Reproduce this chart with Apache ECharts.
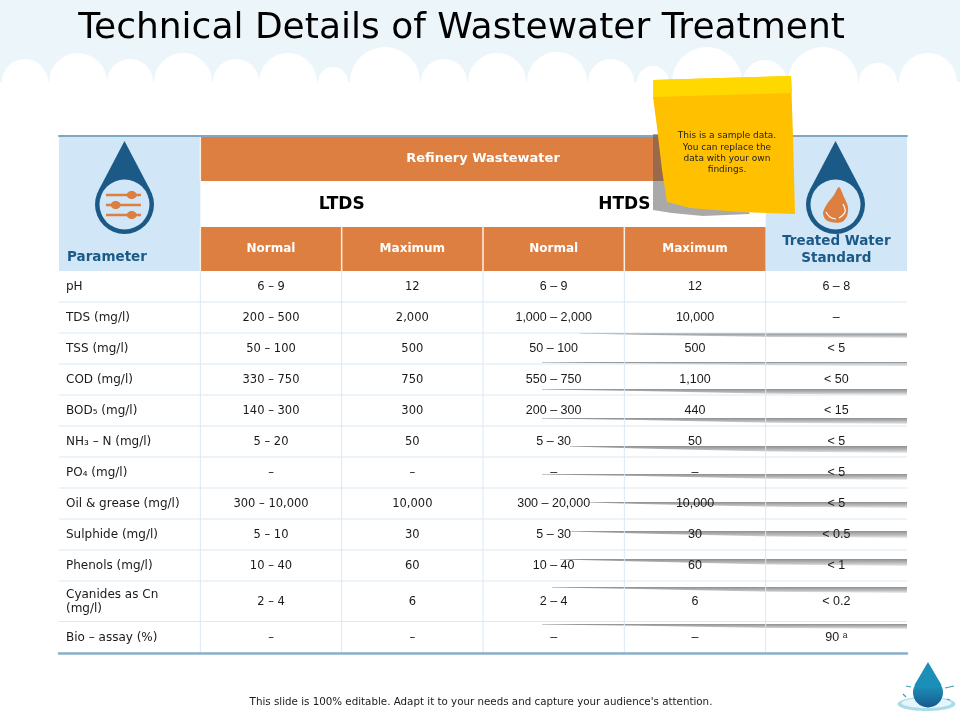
<!DOCTYPE html>
<html>
<head>
<meta charset="utf-8">
<title>Technical Details of Wastewater Treatment</title>
<style>html,body{margin:0;padding:0;background:#fff}#main{width:960px;height:720px}</style>
<script src="https://cdn.jsdelivr.net/npm/echarts@6/dist/echarts.min.js"></script>
</head>
<body>
<div id="main"></div>
<script>
var titleText = 'Technical Details of Wastewater Treatment';
var footerText = "This slide is 100% editable. Adapt it to your needs and capture your audience's attention.";
var noteLines = ['This is a sample data.', 'You can replace the', 'data with your own', 'findings.'];

var groupHeader = 'Refinery Wastewater';
var subGroups = ['LTDS', 'HTDS'];
var colHeaders = ['Normal', 'Maximum', 'Normal', 'Maximum'];

var parameters = ['pH', 'TDS (mg/l)', 'TSS (mg/l)', 'COD (mg/l)', 'BOD₅ (mg/l)', 'NH₃ – N (mg/l)', 'PO₄ (mg/l)',
    'Oil & grease (mg/l)', 'Sulphide (mg/l)', 'Phenols (mg/l)', 'Cyanides as Cn\n(mg/l)', 'Bio – assay (%)'];
var ltdsNormal = ['6 – 9', '200 – 500', '50 – 100', '330 – 750', '140 – 300', '5 – 20', '–', '300 – 10,000', '5 – 10', '10 – 40', '2 – 4', '–'];
var ltdsMaximum = ['12', '2,000', '500', '750', '300', '50', '–', '10,000', '30', '60', '6', '–'];
var htdsNormal = ['6 – 9', '1,000 – 2,000', '50 – 100', '550 – 750', '200 – 300', '5 – 30', '–', '300 – 20,000', '5 – 30', '10 – 40', '2 – 4', '–'];
var htdsMaximum = ['12', '10,000', '500', '1,100', '440', '50', '–', '10,000', '30', '60', '6', '–'];
var treatedStandard = ['6 – 8', '–', '< 5', '< 50', '< 15', '< 5', '< 5', '< 5', '< 0.5', '< 1', '< 0.2', '90 ᵃ'];

// row heights of the table, in y axis units
var headerHeights = [45, 46, 44];
var bodyHeights = [31, 31, 31, 31, 31, 31, 31, 31, 31, 31, 40.5, 31.5];

var BLUE = '#1b5a87', PALE = '#d1e6f6', ORANGE = '#dd7f41', LINE = '#dbe9f3';

// build the cells
var cells = [];
function addCell(x0, y0, x1, y1, text, kind) {
    cells.push({ value: [x0, y0, x1, y1], text: text, kind: kind });
}
var h0 = headerHeights[0], h1 = h0 + headerHeights[1], h2 = h1 + headerHeights[2];
addCell(0, 0, 1, h2, 'Parameter', 'paramHead');
addCell(1, 1, 5, h0, groupHeader, 'group');
addCell(1, h0, 3, h1, subGroups[0], 'sub');
addCell(3, h0, 5, h1, subGroups[1], 'sub');
colHeaders.forEach(function (name, i) {
    addCell(i + 1, h1, i + 2, h2, name, 'colHead');
});
addCell(5, 0, 6, h2, 'Treated Water\nStandard', 'treatedHead');

var columns = [parameters, ltdsNormal, ltdsMaximum, htdsNormal, htdsMaximum, treatedStandard];
var rowTop = h2;
bodyHeights.forEach(function (h, r) {
    columns.forEach(function (col, c) {
        addCell(c, rowTop, c + 1, rowTop + h, col[r], c === 0 ? 'param' : (c >= 3 ? 'valueR' : 'valueL'));
    });
    rowTop += h;
});

function textStyle(kind, text, a, b) {
    var cx = (a[0] + b[0]) / 2, cy = (a[1] + b[1]) / 2;
    var s = { text: text, x: cx, y: cy + 0.5, align: 'center', verticalAlign: 'middle', fill: '#1a1a1a', fontFamily: 'DejaVu Sans', fontSize: 11.5 };
    if (kind === 'param') { s.x = a[0] + 7; s.align = 'left'; s.lineHeight = 14; s.fontSize = 12; }
    if (kind === 'valueR') { s.fontFamily = 'Liberation Sans'; s.fontSize = 12.5; s.y = cy; }
    if (kind === 'group') { s.fill = '#fff'; s.fontWeight = 'bold'; s.fontSize = 13; s.y = cy; }
    if (kind === 'colHead') { s.fill = '#fff'; s.fontWeight = 'bold'; s.fontSize = 12; s.y = cy; }
    if (kind === 'sub') { s.fill = '#000'; s.fontWeight = 'bold'; s.fontSize = 17; }
    if (kind === 'paramHead') { s.fill = BLUE; s.fontWeight = 'bold'; s.fontSize = 13.5; s.x = a[0] + 8; s.y = b[1] - 14; s.align = 'left'; }
    if (kind === 'treatedHead') { s.fill = BLUE; s.fontWeight = 'bold'; s.fontSize = 13.5; s.y = b[1] - 21.5; s.lineHeight = 17; }
    return s;
}

function renderCell(params, api) {
    var cell = cells[params.dataIndex];
    var a = api.coord([api.value(0), api.value(1)]);
    var b = api.coord([api.value(2), api.value(3)]);
    var kids = [];
    var fill = null;
    if (cell.kind === 'paramHead' || cell.kind === 'treatedHead') fill = PALE;
    if (cell.kind === 'group' || cell.kind === 'colHead') fill = ORANGE;
    if (fill) {
        kids.push({ type: 'rect', shape: { x: a[0], y: a[1], width: b[0] - a[0], height: b[1] - a[1] }, style: { fill: fill } });
    }
    if (cell.kind === 'group' || cell.kind === 'colHead') {
        kids.push({ type: 'line', shape: { x1: a[0], y1: a[1], x2: a[0], y2: b[1] }, style: { stroke: '#fbeee5', lineWidth: 1.5 } });
    }
    if (cell.kind === 'param' || cell.kind === 'valueL' || cell.kind === 'valueR') {
        kids.push({ type: 'line', shape: { x1: a[0], y1: b[1], x2: b[0], y2: b[1] }, style: { stroke: LINE, lineWidth: 1 } });
        if (cell.kind !== 'param') {
            kids.push({ type: 'line', shape: { x1: a[0], y1: a[1], x2: a[0], y2: b[1] }, style: { stroke: LINE, lineWidth: 1 } });
        }
    }
    kids.push({ type: 'text', style: textStyle(cell.kind, cell.text, a, b) });
    return { type: 'group', children: kids };
}

// decoration, all of it fixed on the slide
var cloudBumps = [[25, 23], [78, 29], [130, 23], [183, 29], [236, 23], [288, 29], [333, 15], [385, 35], [444, 23], [497, 29],
    [557, 30], [611, 23], [653, 16], [707, 35], [765, 22], [823, 35], [878, 19], [928, 29]];
// left x, top y, bottom y at the right end of each streak
var streaks = [[580, 333, 338], [542, 362, 366], [542, 389, 395], [542, 418, 424], [570, 446, 453], [542, 474, 480],
    [590, 502, 508], [570, 531, 538], [560, 559, 566], [552, 587, 593], [542, 624, 629]];

var deco = [{ type: 'rect', z: -10, shape: { x: 0, y: 0, width: 960, height: 82 }, style: { fill: '#ecf6fa' } }];
cloudBumps.forEach(function (b) {
    deco.push({ type: 'circle', z: -9, shape: { cx: b[0], cy: 82, r: b[1] }, style: { fill: '#fff' } });
});
deco.push({ type: 'rect', z: -8, shape: { x: 0, y: 82, width: 960, height: 40 }, style: { fill: '#fff' } });

streaks.forEach(function (s) {
    deco.push({
        type: 'polygon', z: 1, silent: true,
        shape: { points: [[s[0], s[1]], [907, s[1]], [907, s[2]], [770, s[1] + (s[2] - s[1]) * 0.8], [640, s[1] + (s[2] - s[1]) * 0.35], [s[0], s[1] + 0.6]] },
        style: { fill: { type: 'linear', x: 0, y: 0, x2: 0, y2: 1, colorStops: [{ offset: 0, color: '#8f8f8f' }, { offset: 0.6, color: '#c0c0c0' }, { offset: 1, color: '#ececec' }] } }
    });
});

function drop(cx, cy, apexY, r, fill, z) {
    var d = cy - apexY, sin = r / d, cos = Math.sqrt(1 - sin * sin);
    return [
        { type: 'polygon', z: z, shape: { points: [[cx, apexY], [cx + r * cos, cy - r * sin], [cx - r * cos, cy - r * sin]] }, style: { fill: fill } },
        { type: 'circle', z: z, shape: { cx: cx, cy: cy, r: r }, style: { fill: fill } }
    ];
}
// parameter icon
deco = deco.concat(drop(124.5, 204.5, 141, 29.5, BLUE, 5));
deco.push({ type: 'circle', z: 6, shape: { cx: 124.5, cy: 204.5, r: 25 }, style: { fill: PALE } });
[[195, 131.7], [205, 115.7], [215, 131.7]].forEach(function (k) {
    deco.push({ type: 'line', z: 7, shape: { x1: 106, y1: k[0], x2: 141, y2: k[0] }, style: { stroke: ORANGE, lineWidth: 2.4 } });
    deco.push({ type: 'ellipse', z: 7, shape: { cx: k[1], cy: k[0], rx: 5, ry: 4 }, style: { fill: ORANGE } });
});
// treated water icon
deco = deco.concat(drop(835.5, 204.5, 141, 29.5, BLUE, 5));
deco.push({ type: 'circle', z: 6, shape: { cx: 835.5, cy: 204.5, r: 25 }, style: { fill: PALE } });
deco.push({ type: 'polygon', z: 7, shape: { smooth: 0.3, points: [[839, 187], [834, 195], [827, 204], [823, 213], [826, 220], [834, 222.5], [842, 222], [847, 216], [848, 207], [844, 197]] }, style: { fill: ORANGE } });
deco.push({ type: 'polyline', z: 8, shape: { smooth: 0.4, points: [[826, 212], [830, 217], [836, 219]] }, style: { stroke: '#fff', lineWidth: 1.2, fill: null } });
deco.push({ type: 'polyline', z: 8, shape: { smooth: 0.4, points: [[843, 204], [845, 212], [839, 218]] }, style: { stroke: '#fff', lineWidth: 1.2, fill: null } });

// sticky note
deco.push({ type: 'polygon', z: 20, shape: { points: [[653, 134], [700, 134], [750, 214], [703, 216], [672, 213], [653, 210]] }, style: { fill: 'rgba(83,83,83,0.5)' } });
deco.push({ type: 'polygon', z: 21, shape: { points: [[653, 80], [791, 76], [793, 137], [795, 214], [740, 212], [690, 208], [667, 202], [662, 170], [657, 127], [653, 97]] }, style: { fill: '#ffc000' } });
deco.push({ type: 'polygon', z: 22, shape: { points: [[653, 80], [791, 76], [792, 93], [653, 97]] }, style: { fill: '#ffd800' } });
noteLines.forEach(function (t, i) {
    deco.push({ type: 'text', z: 23, style: { text: t, x: 727, y: 136 + i * 11.3, align: 'center', verticalAlign: 'middle', fill: '#222', fontFamily: 'DejaVu Sans', fontSize: 9 } });
});

// small drop, bottom right
deco.push({ type: 'ellipse', z: 5, shape: { cx: 926.5, cy: 704, rx: 29, ry: 7 }, style: { fill: '#a9dbe8' } });
deco.push({ type: 'ellipse', z: 5, shape: { cx: 926.5, cy: 703, rx: 25, ry: 5 }, style: { fill: '#e5f5f9' } });
deco.push({ type: 'polygon', z: 6, shape: { points: [[928, 662], [941.5, 685], [914.5, 685]] }, style: { fill: '#1b8fb8' } });
deco.push({ type: 'circle', z: 6, shape: { cx: 928, cy: 692.5, r: 15 }, style: { fill: { type: 'linear', x: 0, y: 0, x2: 0, y2: 1, colorStops: [{ offset: 0.3, color: '#1b8fb8' }, { offset: 1, color: '#17598c' }] } } });
[[[906, 686], [911, 687]], [[945, 688], [954, 686]], [[903, 694], [906, 697]], [[947, 699], [950, 700]]].forEach(function (p) {
    deco.push({ type: 'polyline', z: 6, shape: { points: p }, style: { stroke: '#3f9fbe', lineWidth: 1.2, fill: null } });
});

deco.push({ type: 'text', z: 5, style: { text: titleText, x: 461.5, y: 28.5, align: 'center', verticalAlign: 'middle', fill: '#000', fontFamily: 'DejaVu Sans', fontSize: 36 } });
deco.push({ type: 'text', z: 5, style: { text: footerText, x: 481, y: 702, align: 'center', verticalAlign: 'middle', fill: '#1a1a1a', fontFamily: 'DejaVu Sans', fontSize: 10.3 } });

var chart = echarts.init(document.getElementById('main'));
chart.setOption({
    animation: false,
    backgroundColor: '#fff',
    grid: { left: 59, right: 53, top: 136, bottom: 67 },
    xAxis: [
        { type: 'value', min: 0, max: 6, position: 'top', z: 4, axisLine: { show: true, onZero: false, lineStyle: { color: '#7fa8c2', width: 2 } }, axisTick: { show: false }, axisLabel: { show: false }, splitLine: { show: false } },
        { type: 'value', min: 0, max: 6, position: 'bottom', z: 4, axisLine: { show: true, onZero: false, lineStyle: { color: '#8ab0c8', width: 2.5 } }, axisTick: { show: false }, axisLabel: { show: false }, splitLine: { show: false } }
    ],
    yAxis: { type: 'value', inverse: true, min: 0, max: h2 + bodyHeights.reduce(function (s, h) { return s + h; }, 0), axisLine: { show: false }, axisTick: { show: false }, axisLabel: { show: false }, splitLine: { show: false } },
    series: [{
        type: 'custom',
        coordinateSystem: 'cartesian2d',
        xAxisIndex: 0,
        z: 2,
        clip: false,
        silent: true,
        encode: { x: [0, 2], y: [1, 3] },
        renderItem: renderCell,
        data: cells
    }],
    graphic: { elements: deco }
});
</script>
</body>
</html>
